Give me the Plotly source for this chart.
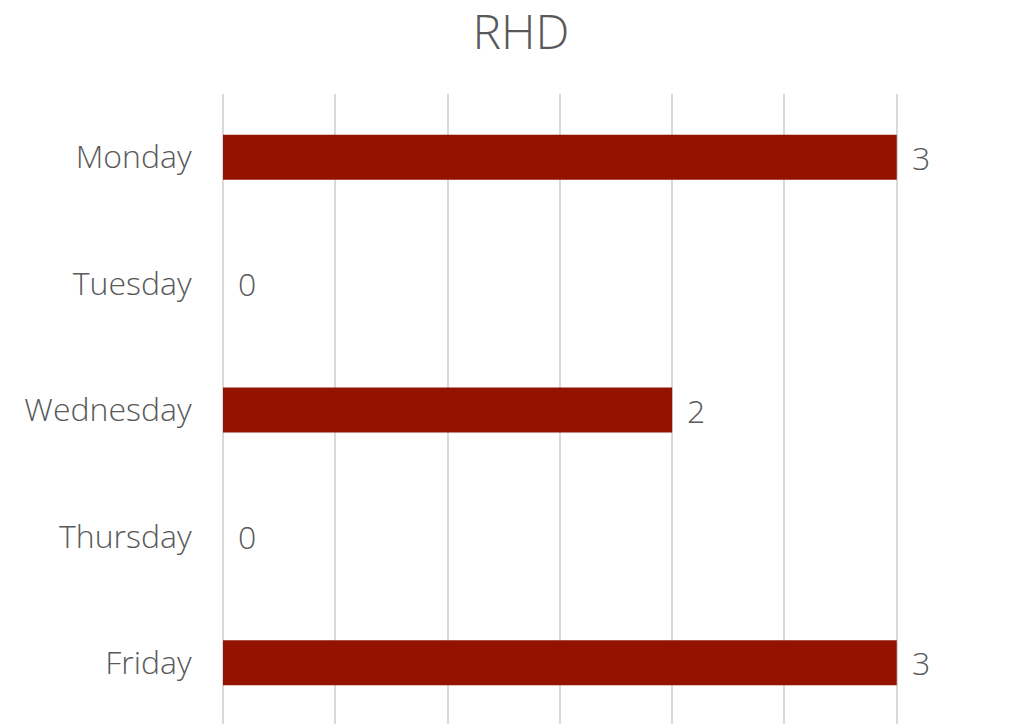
import plotly.graph_objects as go

days = ["Monday", "Tuesday", "Wednesday", "Thursday", "Friday"]
values = [3, 0, 2, 0, 3]
title_text = "RHD"

bar_color = "#931200"
text_color = "#595959"
grid_color = "#d9d9d9"
font_family = "'Open Sans', 'Noto Sans', sans-serif"

fig = go.Figure()
fig.add_trace(go.Bar(
    x=values, y=days, orientation="h",
    marker=dict(color=bar_color, line=dict(width=0)),
    width=0.356, hoverinfo="x+y",
))

for d, v in zip(days, values):
    fig.add_annotation(
        x=v, y=d, text=str(v), showarrow=False,
        xanchor="left", yanchor="middle", xshift=13,
        font=dict(family=font_family, size=32, color=text_color, weight=300),
    )

fig.update_layout(
    width=1009, height=724,
    margin=dict(l=215, r=118, t=86, b=6, pad=0),
    paper_bgcolor="white", plot_bgcolor="white",
    showlegend=False,
    title=dict(
        text=title_text, x=513 / 1009, xref="container", xanchor="center",
        y=1 - 24 / 724, yref="container", yanchor="middle",
        font=dict(family=font_family, size=48, color=text_color, weight=300),
    ),
    font=dict(family=font_family, color=text_color),
)

fig.update_xaxes(
    range=[0, 3.01], dtick=0.5, showgrid=True, gridcolor=grid_color, gridwidth=2,
    showticklabels=False, zeroline=True, zerolinecolor=grid_color, zerolinewidth=2,
    showline=False, ticks="",
)
fig.update_yaxes(
    type="category", categoryorder="array", categoryarray=days,
    range=[4.5, -0.5], showgrid=False, zeroline=False, showline=False,
    ticks="outside", ticklen=24, tickcolor="rgba(0,0,0,0)",
    tickfont=dict(family=font_family, size=32, color=text_color, weight=300),
)

fig.write_html("out.html")
